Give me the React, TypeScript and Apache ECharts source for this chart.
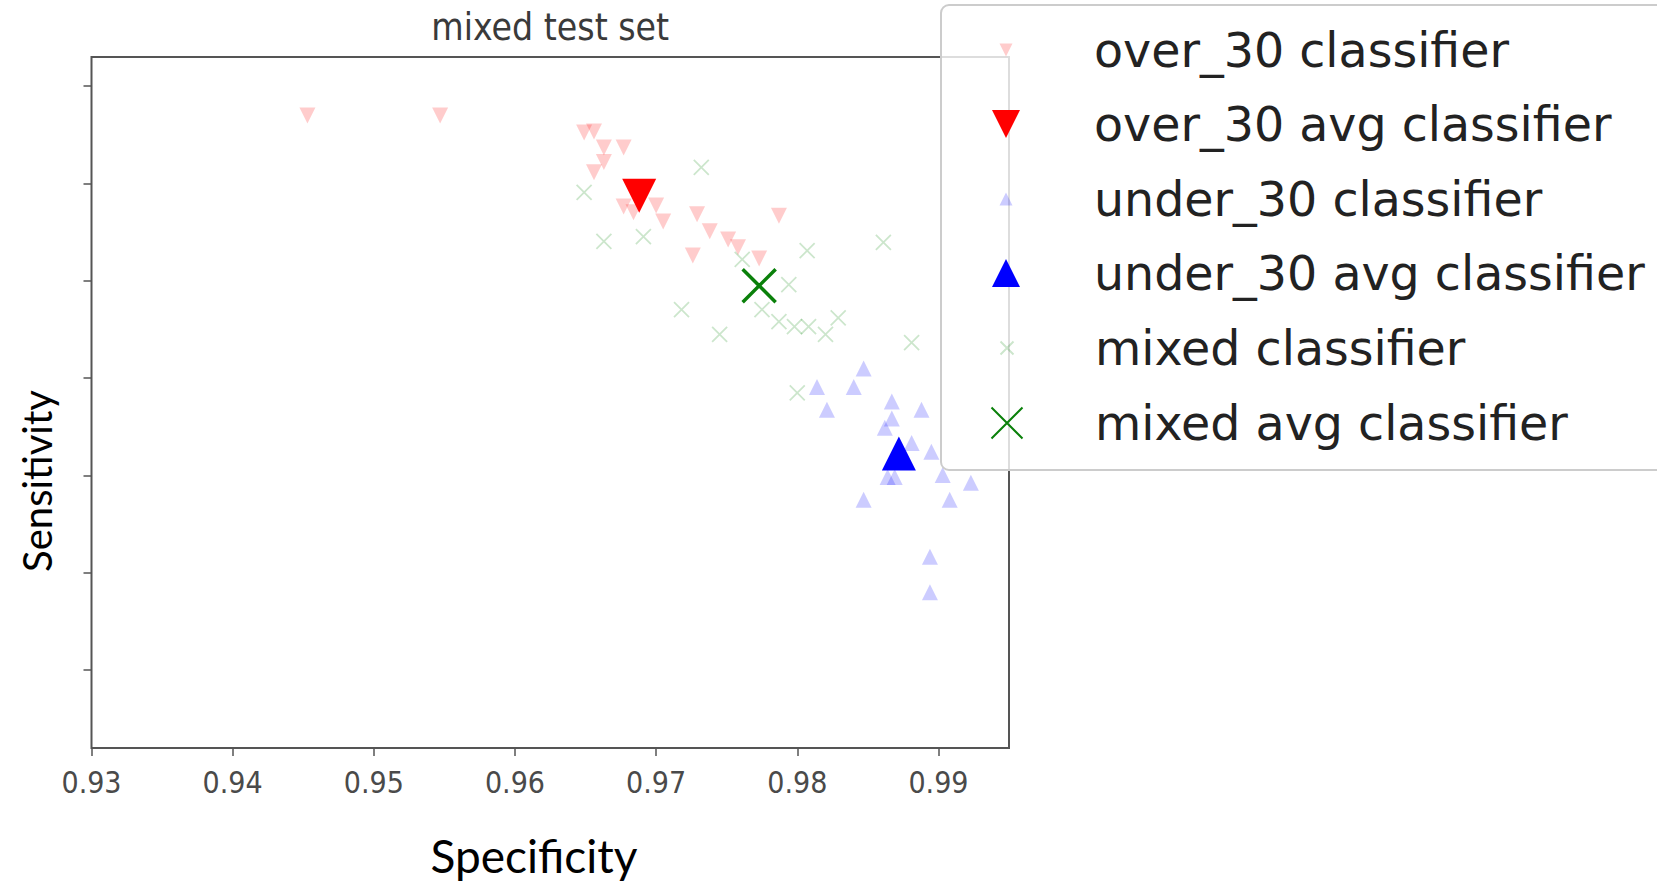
import React, { useEffect, useRef } from "react";
import * as echarts from "echarts";

// ---- data (specificity, sensitivity) ----
const OVER30_POINTS: [number, number][] = [
  [0.9453, 0.914], [0.9547, 0.914], [0.9649, 0.9105], [0.9656, 0.9107],
  [0.9663, 0.9074], [0.9677, 0.9074], [0.9663, 0.9044], [0.9656, 0.9023],
  [0.9677, 0.8953], [0.9684, 0.8941], [0.97, 0.8955], [0.9705, 0.8922],
  [0.9729, 0.8937], [0.9738, 0.8902], [0.9751, 0.8885], [0.9758, 0.8869],
  [0.9773, 0.8846], [0.9787, 0.8934], [0.9726, 0.8852],
];
const OVER30_AVG: [number, number][] = [[0.9688, 0.8975]];

const UNDER30_POINTS: [number, number][] = [
  [0.9847, 0.862], [0.984, 0.8582], [0.9814, 0.8582], [0.9821, 0.8535],
  [0.9867, 0.8552], [0.9888, 0.8535], [0.9867, 0.8517], [0.9862, 0.8498],
  [0.9881, 0.8467], [0.9895, 0.8449], [0.9864, 0.8397], [0.9869, 0.8397],
  [0.9903, 0.8401], [0.9923, 0.8385], [0.9847, 0.835], [0.9908, 0.835],
  [0.9894, 0.8233], [0.9894, 0.816],
];
const UNDER30_AVG: [number, number][] = [[0.9872, 0.8445]];

const MIXED_POINTS: [number, number][] = [
  [0.9732, 0.9033], [0.9649, 0.8982], [0.9663, 0.8881], [0.9691, 0.8891],
  [0.9807, 0.8862], [0.9861, 0.8879], [0.9761, 0.8844], [0.9794, 0.8792],
  [0.9718, 0.8741], [0.9745, 0.869], [0.9775, 0.8741], [0.9787, 0.8716],
  [0.9798, 0.8706], [0.9808, 0.8706], [0.982, 0.869], [0.9829, 0.8724],
  [0.9881, 0.8673], [0.98, 0.857],
];
const MIXED_AVG: [number, number][] = [[0.9773, 0.879]];

const X_TICKS = [0.93, 0.94, 0.95, 0.96, 0.97, 0.98, 0.99];
const Y_TICKS = [0.8, 0.82, 0.84, 0.86, 0.88, 0.9, 0.92];
const X_RANGE = [0.93, 0.995];
const Y_RANGE = [0.784, 0.926];

const SERIES_NAMES = [
  "over_30 classifier",
  "over_30 avg classifier",
  "under_30 classifier",
  "under_30 avg classifier",
  "mixed classifier",
  "mixed avg classifier",
];

const TITLE = "mixed test set";
const X_NAME = "Specificity";
const Y_NAME = "Sensitivity";

const DOWN = "path://M0,0L20,0L10,20Z";
const UP = "path://M10,0L20,20L0,20Z";
const CROSS = "path://M0,0L20,20M20,0L0,20";

const W = 1657;
const H = 882;

export default function App() {
  const ref = useRef<HTMLDivElement>(null);

  useEffect(() => {
    if (!ref.current) return;
    const chart = echarts.init(ref.current, undefined, { renderer: "svg" });

    const plotLeft = 91.5;
    const plotRight = 1009;
    const plotTop = 57;
    const plotBottom = 748;

    const legendFont = "'DejaVu Sans', sans-serif";
    const tickFont = "'DejaVu Sans Condensed', 'DejaVu Sans', sans-serif";
    const labelFont = "Lato, 'Open Sans', sans-serif";

    const rowsY = [50, 124, 199, 273, 348, 423];
    const legendIconSizes = [13, 28, 13, 28, 13, 31];
    const legendIconCenterX = 1006;
    const legendTextX = 1094;
    const lineH = 56;

    const legends = SERIES_NAMES.map((name, i) => {
      const w = legendIconSizes[i];
      return {
        data: [name],
        left: legendIconCenterX - w / 2,
        top: rowsY[i] - lineH / 2,
        padding: 0,
        itemWidth: w,
        itemHeight: w,
        selectedMode: false,
        textStyle: {
          fontFamily: legendFont,
          fontSize: 47.5,
          lineHeight: lineH,
          color: "#222",
          padding: [0, 0, 0, legendTextX - (legendIconCenterX - w / 2) - w - 5],
        },
      };
    });

    const option: any = {
      animation: false,
      backgroundColor: "#ffffff",
      grid: {
        left: plotLeft,
        right: W - plotRight,
        top: plotTop,
        bottom: H - plotBottom,
        show: true,
        borderColor: "#555",
        borderWidth: 2,
        backgroundColor: "transparent",
      },
      xAxis: {
        type: "value",
        min: X_RANGE[0],
        max: X_RANGE[1],
        splitLine: { show: false },
        axisLine: { show: false },
        axisTick: {
          show: true,
          length: 8,
          customValues: X_TICKS,
          lineStyle: { color: "#555", width: 1.5 },
        },
        axisLabel: {
          customValues: X_TICKS,
          formatter: (v: number) => v.toFixed(2),
          fontFamily: tickFont,
          fontSize: 30,
          color: "#4a4a4a",
          margin: 19,
        },
      },
      yAxis: {
        type: "value",
        min: Y_RANGE[0],
        max: Y_RANGE[1],
        splitLine: { show: false },
        axisLine: { show: false },
        axisTick: {
          show: true,
          length: 8,
          customValues: Y_TICKS,
          lineStyle: { color: "#555", width: 1.5 },
        },
        axisLabel: { show: false, customValues: Y_TICKS },
      },
      legend: legends,
      graphic: [
        {
          type: "rect",
          z: 3,
          shape: { x: 941, y: 5, width: 800, height: 465, r: 8 },
          style: { fill: "rgba(255,255,255,0.8)", stroke: "#cccccc", lineWidth: 2 },
        },
        {
          type: "text",
          x: (plotLeft + plotRight) / 2,
          y: 27,
          style: {
            text: TITLE,
            font: "37px 'DejaVu Sans Condensed', 'DejaVu Sans', sans-serif",
            fill: "#3a3a3a",
            align: "center",
            verticalAlign: "middle",
          },
        },
        {
          type: "text",
          x: 534,
          y: 855,
          style: {
            text: X_NAME,
            font: `46px ${labelFont}`,
            fill: "#000",
            align: "center",
            verticalAlign: "middle",
          },
        },
        {
          type: "text",
          x: 37,
          y: 481,
          rotation: Math.PI / 2,
          style: {
            text: Y_NAME,
            font: `40px ${labelFont}`,
            fill: "#000",
            align: "center",
            verticalAlign: "middle",
          },
        },
      ],
      series: [
        {
          name: SERIES_NAMES[0],
          type: "scatter",
          data: OVER30_POINTS,
          symbol: DOWN,
          symbolSize: 16,
          itemStyle: { color: "#ff0000", opacity: 0.2 },
        },
        {
          name: SERIES_NAMES[1],
          type: "scatter",
          data: OVER30_AVG,
          symbol: DOWN,
          symbolSize: 34,
          itemStyle: { color: "#ff0000", opacity: 1 },
        },
        {
          name: SERIES_NAMES[2],
          type: "scatter",
          data: UNDER30_POINTS,
          symbol: UP,
          symbolSize: 16,
          itemStyle: { color: "#0000ff", opacity: 0.2 },
        },
        {
          name: SERIES_NAMES[3],
          type: "scatter",
          data: UNDER30_AVG,
          symbol: UP,
          symbolSize: 34,
          itemStyle: { color: "#0000ff", opacity: 1 },
        },
        {
          name: SERIES_NAMES[4],
          type: "scatter",
          data: MIXED_POINTS,
          symbol: CROSS,
          symbolSize: 15,
          itemStyle: { color: "#008000", borderColor: "#008000", borderWidth: 1.8, opacity: 0.2 },
        },
        {
          name: SERIES_NAMES[5],
          type: "scatter",
          data: MIXED_AVG,
          symbol: CROSS,
          symbolSize: 33,
          itemStyle: { color: "#008000", borderColor: "#0a800a", borderWidth: 3.5, opacity: 1 },
        },
      ],
    };

    chart.setOption(option);
    return () => chart.dispose();
  }, []);

  return (
    <div
      ref={ref}
      style={{ position: "fixed", left: 0, top: 0, width: W, height: H, background: "#fff" }}
    />
  );
}
